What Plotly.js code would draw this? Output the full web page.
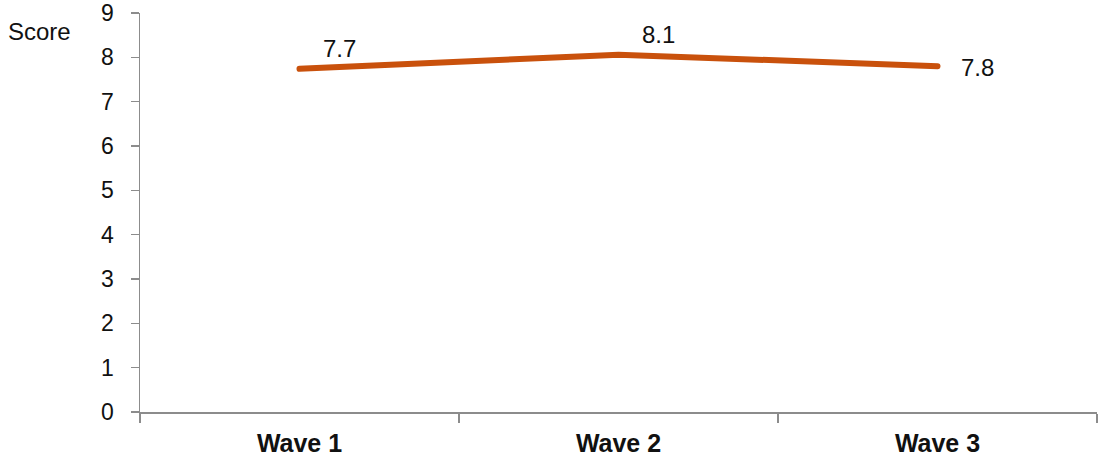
<!DOCTYPE html>
<html>
<head>
<meta charset="utf-8">
<script src="https://cdn.plot.ly/plotly-3.0.1.min.js"></script>
<style>
  html, body { margin: 0; padding: 0; background: #fff; }
  #chart { width: 1098px; height: 459px; }
  .js-line { stroke-linecap: round; }
</style>
</head>
<body>
<div id="chart"></div>
<script>
const categories = ["Wave 1", "Wave 2", "Wave 3"];
const scores = [7.74, 8.06, 7.8];
const scoreLabels = ["7.7", "8.1", "7.8"];
const yTickValues = [0, 1, 2, 3, 4, 5, 6, 7, 8, 9];
const yAxisLabel = "Score";

const FONT = "'Liberation Sans', Arial, Helvetica, sans-serif";
const lineColor = "#C9510C";
const axisColor = "#8c8c8c";
const textColor = "#111111";

const trace = {
  type: "scatter",
  mode: "lines",
  x: categories,
  y: scores,
  line: { color: lineColor, width: 6 },
  hoverinfo: "skip"
};

const annotations = categories.map((c, i) => ({
  x: c,
  y: scores[i],
  xref: "x",
  yref: "y",
  text: scoreLabels[i],
  showarrow: false,
  xanchor: "center",
  yanchor: "middle",
  xshift: 40,
  yshift: i === categories.length - 1 ? -1 : 20,
  font: { family: FONT, size: 24, color: textColor }
}));

annotations.push({
  xref: "paper",
  yref: "paper",
  x: -0.105,
  y: 0.953,
  xanchor: "center",
  yanchor: "middle",
  text: yAxisLabel,
  showarrow: false,
  font: { family: FONT, size: 24, color: textColor }
});

const layout = {
  width: 1098,
  height: 459,
  margin: { l: 140, r: 1, t: 13, b: 47, pad: 0 },
  paper_bgcolor: "#ffffff",
  plot_bgcolor: "#ffffff",
  showlegend: false,
  font: { family: FONT, size: 23, color: textColor },
  xaxis: {
    type: "category",
    range: [-0.5, 2.5],
    showgrid: false,
    zeroline: false,
    showline: true,
    linecolor: axisColor,
    linewidth: 1.5,
    ticks: "outside",
    tickson: "boundaries",
    ticklen: 9,
    tickcolor: axisColor,
    tickwidth: 1.5,
    ticklabelstandoff: 8,
    tickfont: { family: FONT, size: 25, color: textColor, weight: "bold" }
  },
  yaxis: {
    range: [0, 9],
    tickvals: yTickValues,
    showgrid: false,
    zeroline: false,
    showline: true,
    linecolor: axisColor,
    linewidth: 1.5,
    ticks: "outside",
    ticklen: 8,
    tickcolor: axisColor,
    tickwidth: 1.5,
    ticklabelstandoff: 12,
    tickfont: { family: FONT, size: 23, color: textColor }
  },
  annotations: annotations
};

Plotly.newPlot("chart", [trace], layout, { displayModeBar: false, staticPlot: true });
</script>
</body>
</html>
